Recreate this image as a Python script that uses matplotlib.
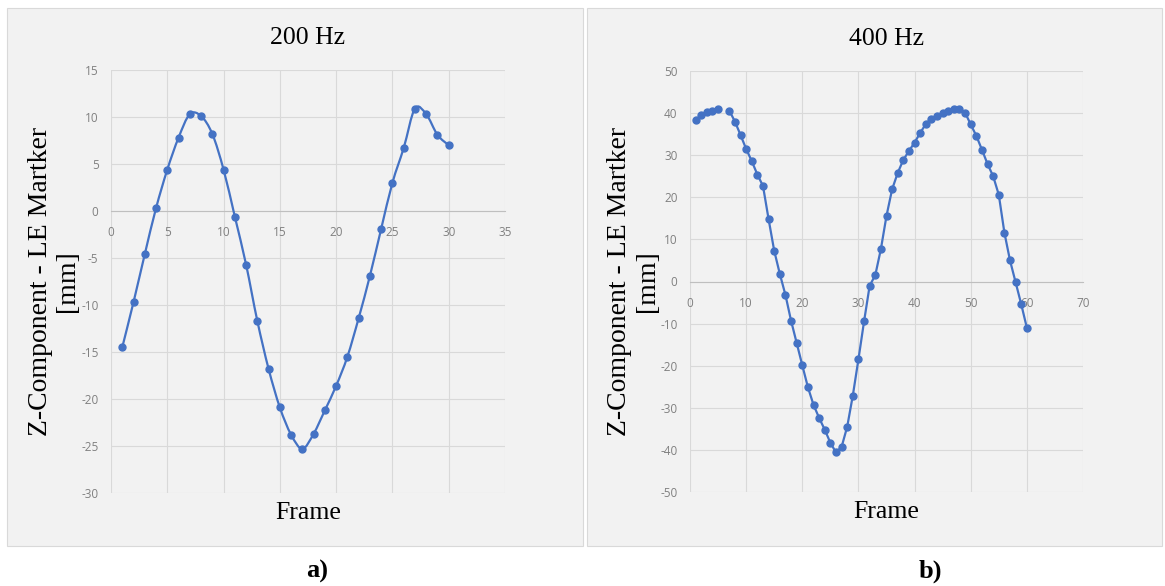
import numpy as np
import matplotlib
matplotlib.use("Agg")
import matplotlib.pyplot as plt
from matplotlib.path import Path
from matplotlib.patches import PathPatch, Rectangle

# 200 Hz run: LE marker z-component per frame
frames_200 = list(range(1, 31))
z_200 = [-14.5, -9.7, -4.6, 0.3, 4.4, 7.8, 10.3, 10.1, 8.2, 4.4,
         -0.6, -5.7, -11.7, -16.8, -20.9, -23.8, -25.3, -23.7, -21.2, -18.6,
         -15.5, -11.4, -6.9, -1.9, 3.0, 6.7, 10.9, 10.3, 8.1, 7.0]

# 400 Hz run (frame 6 was not captured)
frames_400 = list(range(1, 61))
z_400 = [38.3, 39.5, 40.2, 40.6, 40.9, np.nan, 40.6, 38.0, 34.8, 31.5,
         28.6, 25.4, 22.7, 14.8, 7.3, 1.8, -3.2, -9.3, -14.6, -19.9,
         -25.1, -29.3, -32.4, -35.2, -38.3, -40.6, -39.3, -34.5, -27.1, -18.5,
         -9.5, -1.0, 1.5, 7.7, 15.6, 21.9, 25.8, 28.9, 31.0, 33.0,
         35.3, 37.4, 38.6, 39.4, 40.0, 40.5, 41.0, 40.9, 40.1, 37.3,
         34.6, 31.3, 27.9, 25.0, 20.6, 11.6, 5.0, -0.2, -5.4, -11.0]

BLUE = "#4472c4"
PANEL = "#f2f2f2"
GRID = "#d9d9d9"
TICK = "#808080"
SERIF = ["Liberation Serif", "DejaVu Serif"]

plt.rcParams["axes.unicode_minus"] = False


def smooth_path(x, y):
    """Bezier path through the points (Catmull-Rom style, like spreadsheet smoothing)."""
    p = np.column_stack([x, y]).astype(float)
    verts = [p[0]]
    codes = [Path.MOVETO]
    n = len(p)
    for i in range(n - 1):
        p_prev = p[i - 1] if i > 0 else p[i]
        p_next = p[i + 2] if i + 2 < n else p[i + 1]
        c1 = p[i] + (p[i + 1] - p_prev) / 6.0
        c2 = p[i + 1] - (p_next - p[i]) / 6.0
        verts += [c1, c2, p[i + 1]]
        codes += [Path.CURVE4] * 3
    return Path(verts, codes)


def style_axes(ax, xlim, xstep, ylim, ystep):
    ax.set_facecolor("none")
    ax.set_xlim(*xlim)
    ax.set_ylim(*ylim)
    ax.set_xticks(np.arange(xlim[0], xlim[1] + 0.1, xstep))
    ax.set_yticks(np.arange(ylim[0], ylim[1] + 0.1, ystep))
    ax.grid(True, color=GRID, linewidth=0.8)
    ax.set_axisbelow(True)
    for side in ("top", "right", "left"):
        ax.spines[side].set_visible(False)
    ax.spines["bottom"].set_position(("data", 0))
    ax.spines["bottom"].set_color("#bfbfbf")
    ax.spines["bottom"].set_linewidth(0.8)
    ax.tick_params(axis="x", length=0, labelsize=8.5, labelcolor=TICK, pad=11)
    ax.tick_params(axis="y", length=0, labelsize=8.5, labelcolor=TICK, pad=9)
    for lab in ax.get_xticklabels() + ax.get_yticklabels():
        lab.set_family(["Open Sans", "DejaVu Sans"])


fig = plt.figure(figsize=(11.65, 5.86), dpi=100)

# light grey chart boxes behind each plot
for x0, x1 in ((7, 583), (587, 1162)):
    fig.patches.append(Rectangle((x0 / 1165, 1 - 546 / 586), (x1 - x0) / 1165, 538 / 586,
                                 transform=fig.transFigure, facecolor=PANEL,
                                 edgecolor=GRID, linewidth=0.8, zorder=-5))

ax1 = fig.add_axes([111 / 1165, 1 - 493 / 586, 394 / 1165, 423 / 586])
ax2 = fig.add_axes([690 / 1165, 1 - 492 / 586, 393 / 1165, 421 / 586])

style_axes(ax1, (0, 35), 5, (-30, 15), 5)
style_axes(ax2, (0, 70), 10, (-50, 50), 10)

ax1.add_patch(PathPatch(smooth_path(frames_200, z_200), facecolor="none",
                        edgecolor=BLUE, linewidth=1.6, zorder=3))
ax1.plot(frames_200, z_200, linestyle="none", marker="o", markersize=5,
         color=BLUE, zorder=4)

ax2.plot(frames_400, z_400, color=BLUE, linewidth=1.6, marker="o",
         markersize=5, zorder=3)

for ax, title in ((ax1, "200 Hz"), (ax2, "400 Hz")):
    ax.set_title(title, family=SERIF, fontsize=18.5, pad=19)
    ax.text(-57 / 394, 0.5, "Z-Component - LE Martker\n[mm]", transform=ax.transAxes,
            rotation=90, ha="center", va="center", family=SERIF, fontsize=20,
            linespacing=1.15, multialignment="center")
    ax.text(0.5, -0.048, "Frame", transform=ax.transAxes, ha="center", va="center",
            family=SERIF, fontsize=18.5)

fig.text(317 / 1165, 1 - 571 / 586, "a)", ha="center", va="center",
         family=SERIF, fontsize=19, fontweight="bold")
fig.text(930 / 1165, 1 - 571 / 586, "b)", ha="center", va="center",
         family=SERIF, fontsize=19, fontweight="bold")

fig.savefig("out.png", dpi=100, facecolor="white")
